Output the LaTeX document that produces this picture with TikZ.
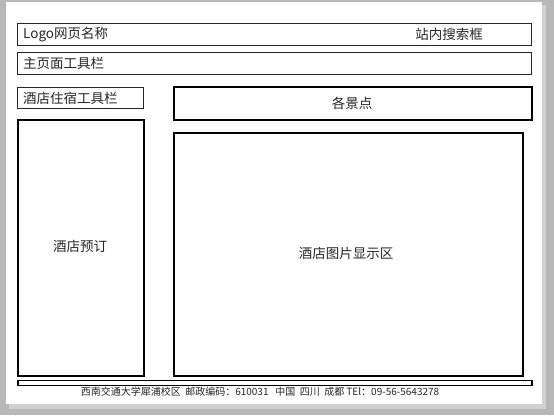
\documentclass[tikz,border=0pt]{standalone}
\usepackage{fontspec}
\usepackage{tikz}
\usetikzlibrary{positioning}
\newfontfamily\cjk{Noto Sans CJK SC}
\tikzstyle{Thin} = [rectangle, draw=black!85, line width=0.9pt, inner sep=0pt, anchor=north west]
\tikzstyle{Thick} = [rectangle, draw=black, line width=1.6pt, inner sep=0pt, anchor=north west]
\tikzstyle{Label} = [inner sep=0pt, text=black!85, font=\cjk\fontsize{13.5}{15}\selectfont]
\tikzstyle{Foot} = [inner sep=0pt, text=black!85, font=\cjk\fontsize{10}{12}\selectfont]

\begin{document}
\begin{tikzpicture}[x=1pt, y=-1pt]
    \useasboundingbox (0,0) rectangle (554,415);
    \fill[black!28] (0,0) rectangle (554,415);
    \fill[black!18] (9,5) rectangle (546,409);
    \fill[white] (6,2) rectangle (542,404);

    %%%%%%%%%%%%%%%%%%%%%%
    \node[Thin, minimum width=514pt, minimum height=22pt] (title) at (17,23) {};
    \node[Label, anchor=west] (logo) at ([xshift=6pt]title.west) {Logo网页名称};
    \node[Label] (search) at (449,34) {站内搜索框};

    \node[Thin, minimum width=514pt, minimum height=22pt] (mainbar) at (17,52) {};
    \node[Label, anchor=west] (mainlbl) at ([xshift=6pt]mainbar.west) {主页面工具栏};

    %%%%%%%%%%%%%%%%%%%%%%
    \node[Thin, minimum width=126pt, minimum height=21pt] (hotelbar) at (17,87) {};
    \node[Label, anchor=west] (hotellbl) at ([xshift=6pt]hotelbar.west) {酒店住宿工具栏};

    \node[Thick, minimum width=126pt, minimum height=256pt] (booking) at (17,119) {};
    \node[Label] (bookinglbl) at (80,246) {酒店预订};

    %%%%%%%%%%%%%%%%%%%%%%
    \node[Thick, minimum width=358pt, minimum height=33pt] (spots) at (173,86) {};
    \node[Label] (spotslbl) at (352,103) {各景点};

    \node[Thick, minimum width=349pt, minimum height=243pt] (photos) at (173,132) {};
    \node[Label] (photoslbl) at (346,253) {酒店图片显示区};

    %%%%%%%%%%%%%%%%%%%%%%
    \node[Thick, line width=1.5pt, minimum width=514pt, minimum height=5pt] (footbar) at (17,379.5) {};
    \node[Foot] (footer) at (260,392) {西南交通大学犀浦校区\ \ 邮政编码：610031\ \ \ 中国\ \ 四川\ \ 成都 TEl：09-56-5643278};

\end{tikzpicture}
\end{document}
